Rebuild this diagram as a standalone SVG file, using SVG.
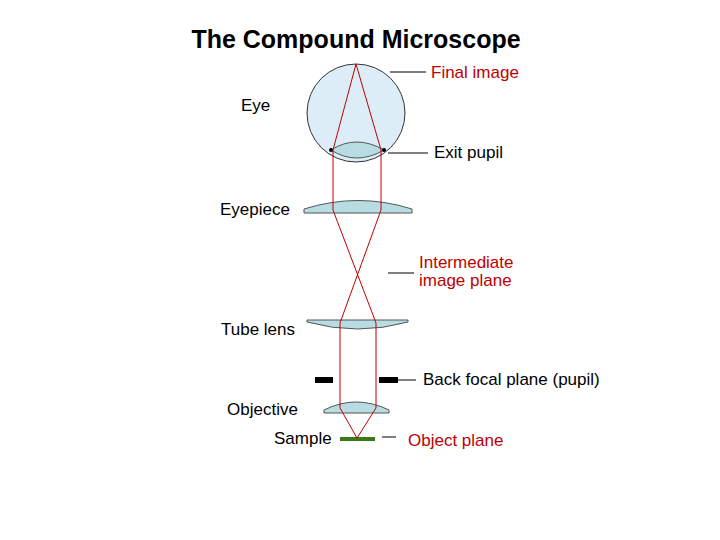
<svg xmlns="http://www.w3.org/2000/svg" width="720" height="540" viewBox="0 0 720 540">
<style>
text{font-family:"Liberation Sans",Arial,sans-serif;font-size:17px;fill:#000}
.red{fill:#c00000}
.lens{fill:#b7dde3;stroke:#555;stroke-width:1}
.lead{stroke:#000;stroke-width:1;fill:none}
.ray{stroke:#c00000;stroke-width:1;fill:none}
</style>
<rect width="720" height="540" fill="#fff"/>
<text x="356" y="48" text-anchor="middle" style="font-size:25px;font-weight:bold">The Compound Microscope</text>
<g id="eye"><circle cx="356" cy="113" r="49" fill="#dcedf7" stroke="#333" stroke-width="1"/>
<path class="lens" d="M331,150 Q356,134 384,150 Q356,166 331,150Z"/>
<circle cx="331" cy="150" r="2" fill="#000"/><circle cx="384" cy="150" r="2" fill="#000"/></g>
<g id="eyepiece"><path class="lens" d="M304,213 L304,209 Q358,192 412,209 L412,213 Z"/></g>
<g id="tubelens"><path class="lens" d="M307,320 L408,320 L408,322 Q358,336 307,322 Z"/></g>
<g id="objective"><path class="lens" d="M324,413 L324,410 Q356,394 389,410 L389,413 Z"/></g>
<g id="bfp"><rect x="315" y="377" width="18" height="6" fill="#000"/><rect x="379" y="377" width="19" height="6" fill="#000"/></g>
<g id="sample"><line x1="340" y1="439" x2="375" y2="439" stroke="#3a7a17" stroke-width="4"/></g>
<g id="connectors">
<path class="ray" d="M356,64 L333,150 L333,210 L376,323 L376,408 L357,438 L340,408 L340,323 L381,210 L381,150 Z"/>
<line class="lead" x1="390" y1="72" x2="426" y2="72"/>
<line class="lead" x1="388" y1="153" x2="428" y2="153"/>
<line class="lead" x1="388" y1="273" x2="414" y2="273"/>
<line class="lead" x1="398" y1="380" x2="416" y2="380"/>
<line class="lead" x1="382" y1="437" x2="396" y2="437"/>
</g>
<text x="431" y="78" class="red">Final image</text>
<text x="241" y="111">Eye</text>
<text x="434" y="158">Exit pupil</text>
<text x="220" y="215">Eyepiece</text>
<text x="419" y="268" class="red">Intermediate</text>
<text x="419" y="286" class="red">image plane</text>
<text x="221" y="335">Tube lens</text>
<text x="423" y="385">Back focal plane (pupil)</text>
<text x="227" y="415">Objective</text>
<text x="274" y="444">Sample</text>
<text x="408" y="446" class="red">Object plane</text>
</svg>
